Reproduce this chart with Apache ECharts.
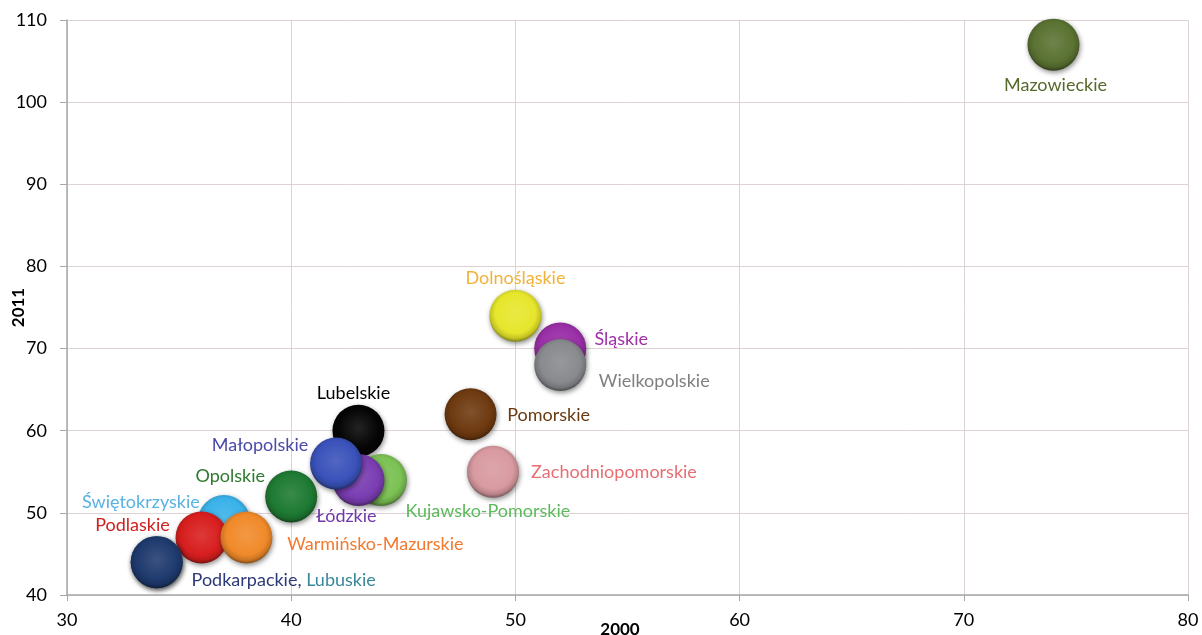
<!DOCTYPE html>
<html><head><meta charset="utf-8">
<script src="https://cdn.jsdelivr.net/npm/echarts@6/dist/echarts.min.js"></script>
<style>html,body{margin:0;padding:0;background:#fff}#c{width:1202px;height:635px}</style>
</head><body><div id="c"></div>
<script>
const regions = ['Mazowieckie','Dolnośląskie','Śląskie','Wielkopolskie','Pomorskie','Zachodniopomorskie','Lubelskie','Kujawsko-Pomorskie','Łódzkie','Małopolskie','Opolskie','Świętokrzyskie','Podlaskie','Warmińsko-Mazurskie','Lubuskie','Podkarpackie'];
const values2000 = [74, 50, 52, 52, 48, 49, 43, 44, 43, 42, 40, 37, 36, 38, 34, 34];
const values2011 = [107, 74, 70, 68, 62, 55, 60, 54, 54, 56, 52, 49, 47, 47, 44, 44];
const xTicks = [30, 40, 50, 60, 70, 80];
const yTicks = [40, 50, 60, 70, 80, 90, 100, 110];

const bubbleColors = ['#5a7232','#e6e62c','#9a2fa8','#888a8e','#6e3a10','#d89aa0','#050505','#7cc254','#7a3db2','#3a52ba','#1e7a32','#3ab2ea','#d81e1e','#f08a2a','#2f8a98','#1f3a6e'];
const labelColors = ['#56692a','#f2b238','#a02fa8','#7f7f7f','#6b3a10','#e86e72','#000000','#5cba5c','#7038a8','#4a4aa8','#2e7a2e','#58b2e2','#d02020','#f27a30','#3a8898','#2e3a78'];
const labelOffsets = [[2,41],[0,-38],[61,-9],[94,16],[78,1],[121,0],[-5,-38],[107,31],[-12,36],[-76,-18],[-61,-20],[-83,-19],[-69,-12],[129,7],[0,0],[127,18]];

function shade(hex, f){
  const n = parseInt(hex.slice(1),16);
  let r=(n>>16)&255,g=(n>>8)&255,b=n&255;
  if(f>0){r=r+(255-r)*f;g=g+(255-g)*f;b=b+(255-b)*f;}
  else {r=r*(1+f);g=g*(1+f);b=b*(1+f);}
  return 'rgb('+Math.round(r)+','+Math.round(g)+','+Math.round(b)+')';
}

const FS = 18;
const data = regions.map((name,i)=>{
  const c = bubbleColors[i];
  const item = {
    name,
    value:[values2000[i], values2011[i]],
    itemStyle:{
      opacity:1,
      color:{type:'radial',x:0.5,y:0.45,r:0.55,colorStops:[
        {offset:0,color:shade(c,0.12)},
        {offset:0.7,color:c},
        {offset:0.88,color:shade(c,-0.15)},
        {offset:1,color:shade(c,-0.45)}]},
      shadowBlur:5, shadowColor:'rgba(0,0,0,0.45)', shadowOffsetX:1, shadowOffsetY:2
    },
    label:{
      show:true, position:'inside', offset:labelOffsets[i],
      color:labelColors[i], formatter:name
    }
  };
  if(name==='Lubuskie'){ item.label.show=false; }
  if(name==='Podkarpackie'){
    item.label.formatter='{a|Podkarpackie,} {b|Lubuskie}';
    item.label.rich={a:{color:labelColors[15],fontSize:FS,fontFamily:'Lato'},b:{color:labelColors[14],fontSize:FS,fontFamily:'Lato'}};
  }
  return item;
});

const chart = echarts.init(document.getElementById('c'));
chart.setOption({
  animation:false,
  backgroundColor:'#ffffff',
  grid:{left:67,right:14,top:20,bottom:40,containLabel:false,outerBoundsMode:'none'},
  xAxis:{
    type:'value', min:xTicks[0], max:xTicks[xTicks.length-1], interval:10,
    name:'2000', nameLocation:'middle', nameGap:26, nameMoveOverlap:false,
    nameTextStyle:{fontWeight:'bold',fontSize:17,color:'#000',fontFamily:'Lato',padding:[0,15,0,0]},
    axisLine:{show:true,lineStyle:{color:'#a8a8a8',width:1.5}},
    axisTick:{show:true,length:6,lineStyle:{color:'#a8a8a8'}},
    axisLabel:{fontSize:18,color:'#000',fontFamily:'Lato',margin:16},
    splitLine:{show:true,lineStyle:{color:'#ddd3d3'}}
  },
  yAxis:{
    type:'value', min:yTicks[0], max:yTicks[yTicks.length-1], interval:10,
    name:'2011', nameLocation:'middle', nameGap:40, nameRotate:90, nameMoveOverlap:false,
    nameTextStyle:{fontWeight:'bold',fontSize:17,color:'#000',fontFamily:'Lato'},
    axisLine:{show:true,lineStyle:{color:'#a8a8a8',width:1.5}},
    axisTick:{show:true,length:7,lineStyle:{color:'#a8a8a8'}},
    axisLabel:{fontSize:18,color:'#000',fontFamily:'Lato',margin:20},
    splitLine:{show:true,lineStyle:{color:'#ddd3d3'}}
  },
  series:[{
    type:'scatter',
    symbolSize:52,
    label:{fontSize:FS,fontFamily:'Lato'},
    emphasis:{disabled:true},
    data
  }]
});
</script></body></html>
